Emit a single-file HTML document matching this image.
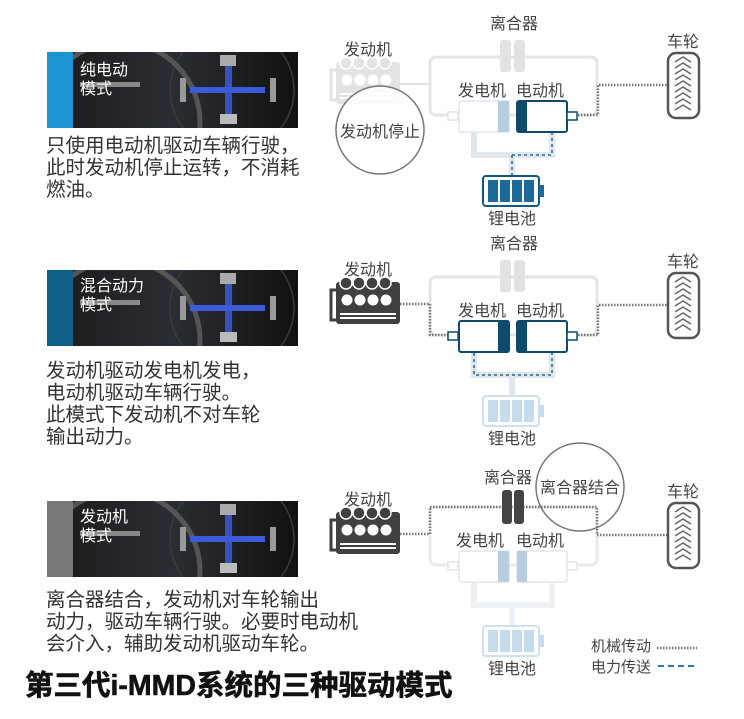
<!DOCTYPE html>
<html><head><meta charset="utf-8"><style>
body{margin:0;background:#fff;}
svg{display:block;font-family:"Liberation Sans","Noto Sans CJK SC",sans-serif;}
.lb{font-size:16px;fill:#444;}
.tx{font-size:19.5px;fill:#333;}
</style></head><body>
<svg width="744" height="719" viewBox="0 0 744 719" xmlns="http://www.w3.org/2000/svg">
<defs>
<linearGradient id="dash" x1="0" x2="1"><stop offset="0" stop-color="#1a1a1a"/><stop offset="0.5" stop-color="#2a2d33"/><stop offset="1" stop-color="#111"/></linearGradient>
<clipPath id="cp"><rect x="47" y="0" width="251" height="76"/></clipPath>
<g id="dashimg">
<rect x="47" y="0" width="251" height="76" fill="url(#dash)"/>
<g clip-path="url(#cp)">
<circle cx="232" cy="38" r="62" fill="none" stroke="#3a3a3a" stroke-width="1.5"/>
<circle cx="120" cy="70" r="80" fill="none" stroke="#555" stroke-width="5"/>
<rect x="80" y="30" width="60" height="5" fill="#888"/>
<rect x="190" y="35" width="75" height="6" fill="#3b5bd8"/>
<rect x="225" y="14" width="7" height="48" fill="#3b5bd8" opacity="0.85"/>
<rect x="180" y="26" width="6" height="24" fill="#999"/><rect x="270" y="26" width="6" height="24" fill="#999"/>
<rect x="220" y="3" width="16" height="11" fill="#aaa"/><rect x="220" y="62" width="17" height="10" fill="#bbb"/>
</g>
</g>
<g id="wheel">
<rect x="668" y="53" width="31" height="65" rx="8" fill="#fff" stroke="#555" stroke-width="2.5"/>
<path d="M675 62l8-5 8 5M675 68l8-5 8 5M675 74l8-5 8 5M675 80l8-5 8 5M675 86l8-5 8 5M675 92l8-5 8 5M675 98l8-5 8 5M675 104l8-5 8 5M675 110l8-5 8 5" fill="none" stroke="#666" stroke-width="1.5"/>
<text x="683" y="47" class="lb" text-anchor="middle">车轮</text>
</g>
<g id="engine">
<rect x="336" y="62" width="64" height="42" rx="3" fill="currentColor"/>
<path d="M336 70h-5v30h5" fill="none" stroke="currentColor" stroke-width="3"/>
<circle cx="346" cy="63" r="6" fill="currentColor" stroke="#fff" stroke-width="1.5"/><circle cx="359" cy="63" r="6" fill="currentColor" stroke="#fff" stroke-width="1.5"/><circle cx="372" cy="63" r="6" fill="currentColor" stroke="#fff" stroke-width="1.5"/><circle cx="385" cy="63" r="6" fill="currentColor" stroke="#fff" stroke-width="1.5"/>
<circle cx="347" cy="80" r="5.5" fill="#fff"/><circle cx="360" cy="80" r="5.5" fill="#fff"/><circle cx="373" cy="80" r="5.5" fill="#fff"/><circle cx="386" cy="80" r="5.5" fill="#fff"/>
<rect x="340" y="93" width="56" height="2" fill="#fff"/><rect x="340" y="97" width="56" height="2" fill="#fff"/>
<text x="368" y="55" class="lb" text-anchor="middle">发动机</text>
</g>
</defs>

<g transform="translate(0,52)"><use href="#dashimg"/><rect x="47" y="0" width="26" height="76" fill="#1c93d2"/>
<text x="80" y="23" font-size="16" fill="#fff">纯电动</text><text x="80" y="42" font-size="16" fill="#fff">模式</text></g>
<g transform="translate(0,270)"><use href="#dashimg"/><rect x="47" y="0" width="26" height="76" fill="#0f5f86"/>
<text x="80" y="21" font-size="16" fill="#fff">混合动力</text><text x="80" y="40" font-size="16" fill="#fff">模式</text></g>
<g transform="translate(0,501)"><use href="#dashimg"/><rect x="47" y="0" width="26" height="76" fill="#777"/>
<text x="80" y="21" font-size="16" fill="#fff">发动机</text><text x="80" y="40" font-size="16" fill="#fff">模式</text></g>

<text class="tx" x="46" y="152">只使用电动机驱动车辆行驶，</text>
<text class="tx" x="46" y="174">此时发动机停止运转，不消耗</text>
<text class="tx" x="46" y="196">燃油。</text>
<text class="tx" x="46" y="377">发动机驱动发电机发电，</text>
<text class="tx" x="46" y="399">电动机驱动车辆行驶。</text>
<text class="tx" x="46" y="421">此模式下发动机不对车轮</text>
<text class="tx" x="46" y="443">输出动力。</text>
<text class="tx" x="46" y="606">离合器结合，发动机对车轮输出</text>
<text class="tx" x="46" y="628">动力，驱动车辆行驶。必要时电动机</text>
<text class="tx" x="46" y="650">会介入，辅助发动机驱动车轮。</text>
<text x="25" y="695" font-size="28.5" font-weight="bold" fill="#111" stroke="#111" stroke-width="0.6">第三代i-MMD系统的三种驱动模式</text>

<!-- PANEL 1 -->
<g>
<text x="514" y="29" class="lb" text-anchor="middle">离合器</text>
<rect x="430" y="57" width="167" height="58" rx="6" fill="none" stroke="#e4e4e4" stroke-width="3"/>
<rect x="500" y="40" width="11" height="32" rx="3" fill="#e2e2e2"/><rect x="514" y="40" width="11" height="32" rx="3" fill="#e2e2e2"/>
<g color="#e3e3e3"><use href="#engine"/></g>
<line x1="400" y1="84" x2="430" y2="84" stroke="#e4e4e4" stroke-width="2"/>
<path d="M578 115h20v-30h70" fill="none" stroke="#777" stroke-width="2.5" stroke-dasharray="1.5 1.5"/>
<use href="#wheel"/>
<text x="482" y="96" class="lb" text-anchor="middle">发电机</text><text x="540" y="96" class="lb" text-anchor="middle">电动机</text>
<rect x="448" y="112" width="10" height="8" fill="#fff" stroke="#dde5ec" stroke-width="1.5"/>
<rect x="459" y="101" width="50" height="31" rx="2" fill="#fff" stroke="#dfe7ee" stroke-width="1.5"/><rect x="498" y="101" width="11" height="31" fill="#b8cde0"/>
<rect x="517" y="101" width="50" height="31" rx="2" fill="#fff" stroke="#0d4a6b" stroke-width="2"/><rect x="517" y="101" width="10" height="31" fill="#0d4a6b"/>
<rect x="567" y="112" width="10" height="8" fill="#fff" stroke="#0d4a6b" stroke-width="1.5"/>
<path d="M474 133v22h78v-22M512 155v20" fill="none" stroke="#dfe6ec" stroke-width="6"/>
<path d="M512 155h40v-22M512 155v20" fill="none" stroke="#2a6a8d" stroke-width="1.5" stroke-dasharray="3 3"/>
<rect x="483" y="176" width="56" height="30" rx="3" fill="#fff" stroke="#0d5a82" stroke-width="2"/>
<rect x="488" y="180" width="10" height="22" fill="#1d6a9a"/><rect x="500" y="180" width="10" height="22" fill="#1d6a9a"/><rect x="512" y="180" width="10" height="22" fill="#1d6a9a"/><rect x="524" y="180" width="10" height="22" fill="#1d6a9a"/>
<rect x="539" y="185" width="5" height="12" fill="#1d6a9a"/>
<text x="512" y="224" class="lb" text-anchor="middle">锂电池</text>
<circle cx="380" cy="130" r="44" fill="rgba(255,255,255,0.85)" stroke="#777" stroke-width="1.5"/>
<text x="380" y="137" font-size="16" fill="#444" text-anchor="middle">发动机停止</text>
</g>

<!-- PANEL 2 -->
<g transform="translate(0,220)">
<text x="514" y="29" class="lb" text-anchor="middle">离合器</text>
<rect x="430" y="57" width="167" height="58" rx="6" fill="none" stroke="#e4e4e4" stroke-width="3"/>
<rect x="500" y="40" width="11" height="32" rx="3" fill="#e2e2e2"/><rect x="514" y="40" width="11" height="32" rx="3" fill="#e2e2e2"/>
<g color="#404040"><use href="#engine"/></g>
<path d="M400 84h30v31h18" fill="none" stroke="#777" stroke-width="2.5" stroke-dasharray="1.5 1.5"/>
<path d="M578 115h20v-30h70" fill="none" stroke="#777" stroke-width="2.5" stroke-dasharray="1.5 1.5"/>
<use href="#wheel"/>
<text x="482" y="96" class="lb" text-anchor="middle">发电机</text><text x="540" y="96" class="lb" text-anchor="middle">电动机</text>
<rect x="448" y="112" width="10" height="8" fill="#fff" stroke="#0d4a6b" stroke-width="1.5"/>
<rect x="459" y="101" width="50" height="31" rx="2" fill="#fff" stroke="#0d4a6b" stroke-width="2"/><rect x="498" y="101" width="11" height="31" fill="#0d4a6b"/>
<rect x="517" y="101" width="50" height="31" rx="2" fill="#fff" stroke="#0d4a6b" stroke-width="2"/><rect x="517" y="101" width="10" height="31" fill="#0d4a6b"/>
<rect x="567" y="112" width="10" height="8" fill="#fff" stroke="#0d4a6b" stroke-width="1.5"/>
<path d="M474 133v22h78v-22M512 155v20" fill="none" stroke="#dfe6ec" stroke-width="6"/>
<path d="M474 133v22h78v-22" fill="none" stroke="#2a6a8d" stroke-width="1.5" stroke-dasharray="3 3"/>
<rect x="483" y="176" width="56" height="30" rx="3" fill="#fff" stroke="#cfe0ec" stroke-width="2"/>
<rect x="488" y="180" width="10" height="22" fill="#c4dcec"/><rect x="500" y="180" width="10" height="22" fill="#c4dcec"/><rect x="512" y="180" width="10" height="22" fill="#c4dcec"/><rect x="524" y="180" width="10" height="22" fill="#c4dcec"/>
<rect x="539" y="185" width="5" height="12" fill="#c4dcec"/>
<text x="512" y="224" class="lb" text-anchor="middle">锂电池</text>
</g>

<!-- PANEL 3 -->
<g transform="translate(0,450)">
<text x="508" y="33" class="lb" text-anchor="middle">离合器</text>
<rect x="430" y="57" width="167" height="58" rx="6" fill="none" stroke="#eaeaea" stroke-width="3"/>
<path d="M400 84h30v-27h167v28h70" fill="none" stroke="#777" stroke-width="2.5" stroke-dasharray="1.5 1.5"/>
<rect x="502" y="40" width="10" height="34" rx="3" fill="#444"/><rect x="514" y="40" width="10" height="34" rx="3" fill="#444"/>
<g color="#404040"><use href="#engine"/></g>
<use href="#wheel"/>
<text x="480" y="96" class="lb" text-anchor="middle">发电机</text><text x="540" y="96" class="lb" text-anchor="middle">电动机</text>
<rect x="448" y="112" width="10" height="8" fill="#fff" stroke="#dde5ec" stroke-width="1.5"/>
<rect x="459" y="101" width="50" height="31" rx="2" fill="#fff" stroke="#dfe7ee" stroke-width="1.5"/><rect x="498" y="101" width="11" height="31" fill="#b8cde0"/>
<rect x="517" y="101" width="50" height="31" rx="2" fill="#fff" stroke="#dfe7ee" stroke-width="1.5"/><rect x="517" y="101" width="10" height="31" fill="#b8cde0"/>
<rect x="567" y="112" width="10" height="8" fill="#fff" stroke="#dde5ec" stroke-width="1.5"/>
<path d="M474 133v22h78v-22M512 155v20" fill="none" stroke="#eef2f5" stroke-width="6"/>
<rect x="483" y="176" width="56" height="30" rx="3" fill="#fff" stroke="#cfe0ec" stroke-width="2"/>
<rect x="488" y="180" width="10" height="22" fill="#c4dcec"/><rect x="500" y="180" width="10" height="22" fill="#c4dcec"/><rect x="512" y="180" width="10" height="22" fill="#c4dcec"/><rect x="524" y="180" width="10" height="22" fill="#c4dcec"/>
<rect x="539" y="185" width="5" height="12" fill="#c4dcec"/>
<text x="512" y="224" class="lb" text-anchor="middle">锂电池</text>
<circle cx="580" cy="37" r="44" fill="none" stroke="#777" stroke-width="1.5"/>
<text x="580" y="43" font-size="16" fill="#444" text-anchor="middle">离合器结合</text>
</g>

<text x="591" y="651" font-size="15" fill="#444">机械传动</text>
<line x1="657" y1="648" x2="697" y2="648" stroke="#777" stroke-width="2.5" stroke-dasharray="1.5 1.5"/>
<text x="591" y="672" font-size="15" fill="#444">电力传送</text>
<line x1="658" y1="666" x2="697" y2="666" stroke="#2a7aa8" stroke-width="2" stroke-dasharray="6 4"/>
</svg>
</body></html>
